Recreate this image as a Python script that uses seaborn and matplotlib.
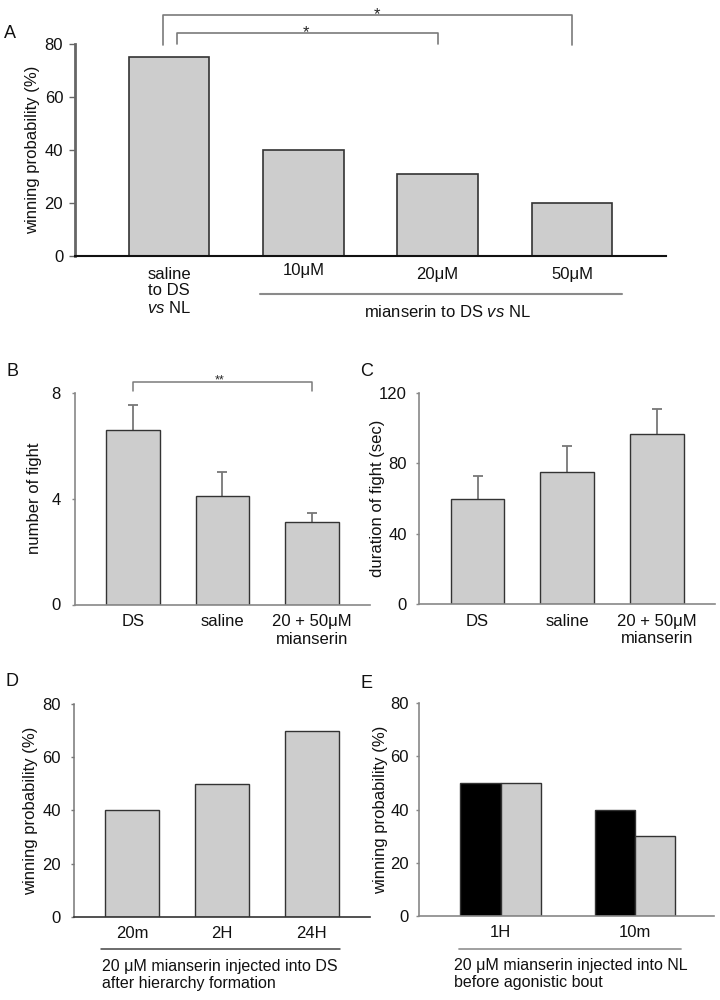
import matplotlib
matplotlib.use("Agg")
import matplotlib.pyplot as plt
import seaborn as sns
import pandas as pd
import numpy as np
from matplotlib.transforms import blended_transform_factory, ScaledTranslation

sns.set_style("white")
plt.rcParams["font.family"] = ["Liberation Sans", "DejaVu Sans"]
plt.rcParams["mathtext.fontset"] = "custom"
plt.rcParams["mathtext.rm"] = "Liberation Sans"
plt.rcParams["mathtext.it"] = "Liberation Sans:italic"

# ---------------- data ----------------
a_groups = ["saline\nto DS\n$\\mathit{vs}$ NL", "10\u03bcM", "20\u03bcM", "50\u03bcM"]
a_values = [75, 40, 31, 20]

b_groups = ["DS", "saline", "20 + 50\u03bcM\nmianserin"]
b_means = [6.6, 4.1, 3.1]
b_sem = [0.95, 0.9, 0.35]

c_groups = ["DS", "saline", "20 + 50\u03bcM\nmianserin"]
c_means = [60, 75, 96.5]
c_sem = [13, 14.5, 14]

d_groups = ["20m", "2H", "24H"]
d_values = [40, 50, 70]

e_groups = ["1H", "10m"]
e_series = ["black", "grey"]
e_values_black = [50, 40]
e_values_grey = [50, 30]

BAR = "#cdcdcd"
EDGE = "#333333"
GREY_LINE = "#7a7a7a"

fig = plt.figure(figsize=(7.2, 10), dpi=100)


def add_ax(l, t, r, b):
    return fig.add_axes([l / 720, 1 - b / 1000, (r - l) / 720, (b - t) / 1000])


def style(ax, left_color, left_lw, bottom_color, bottom_lw, tick_len, ypad, xpad, ylabel, ylabel_px, l, r):
    for s in ["top", "right"]:
        ax.spines[s].set_visible(False)
    ax.spines["left"].set_color(left_color)
    ax.spines["left"].set_linewidth(left_lw)
    ax.spines["bottom"].set_color(bottom_color)
    ax.spines["bottom"].set_linewidth(bottom_lw)
    ax.tick_params(axis="y", left=True, length=tick_len, width=1, color=left_color,
                   labelsize=12, pad=ypad, labelcolor="#111111")
    ax.tick_params(axis="x", bottom=False, length=0, labelsize=12, pad=xpad, labelcolor="#111111")
    ax.set_xlabel("")
    ax.set_ylabel(ylabel, fontsize=12, color="#111111")
    ax.yaxis.set_label_coords((ylabel_px - l) / (r - l), 0.5)


def upper_errorbars(ax, means, sems):
    x = np.arange(len(means))
    ax.errorbar(x, means, yerr=[np.zeros(len(sems)), sems], fmt="none",
                ecolor="#777777", elinewidth=1.3, capsize=0, zorder=1)
    ax.plot(x, np.add(means, sems), ls="none", marker="_", ms=7, mew=1.3,
            color="#777777", zorder=1)


# ---------------- Panel A ----------------
axA = add_ax(75, 44, 666, 256)
dfA = pd.DataFrame({"group": a_groups, "value": a_values})
sns.barplot(data=dfA, x="group", y="value", ax=axA, color=BAR, saturation=1,
            width=0.6, edgecolor=EDGE, linewidth=1.2, errorbar=None)
axA.set_xlim(-0.7, 3.7)
axA.set_ylim(0, 80)
axA.set_yticks([0, 20, 40, 60, 80])
style(axA, "#666666", 2.0, "#111111", 1.5, 4, 4.5, 8,
      "winning probability (%)", 40, 75, 666)
for lbl in axA.get_xticklabels():
    lbl.set_linespacing(1.1)
    if lbl.get_text().startswith("10"):
        lbl.set_transform(lbl.get_transform() + ScaledTranslation(0, 3 / 72, fig.dpi_scale_trans))

trA = blended_transform_factory(axA.transData, axA.transAxes)
axA.plot([-0.045, -0.045, 3.0, 3.0], [0.995, 1.137, 1.137, 0.995], transform=trA,
         color=GREY_LINE, lw=1.2, clip_on=False)
axA.plot([0.06, 0.06, 2.0, 2.0], [1.0, 1.052, 1.052, 1.0], transform=trA,
         color=GREY_LINE, lw=1.2, clip_on=False)
axA.text(1.55, 1.118, "*", transform=trA, ha="center", va="baseline", fontsize=12)
axA.text(1.02, 1.033, "*", transform=trA, ha="center", va="baseline", fontsize=12)
axA.plot([0.68, 3.37], [-0.178, -0.178], transform=trA, color="#8a8a8a", lw=1.5, clip_on=False)
axA.text(2.07, -0.266, "mianserin to DS $\\mathit{vs}$ NL", transform=trA,
         ha="center", va="center", fontsize=12, color="#111111")

# ---------------- Panel B ----------------
axB = add_ax(75, 392.7, 370, 604.5)
dfB = pd.DataFrame({"group": b_groups, "mean": b_means})
sns.barplot(data=dfB, x="group", y="mean", ax=axB, color=BAR, saturation=1,
            width=0.6, edgecolor=EDGE, linewidth=1.0, errorbar=None, zorder=2)
upper_errorbars(axB, b_means, b_sem)
axB.set_xlim(-0.65, 2.65)
axB.set_ylim(0, 8)
axB.set_yticks([0, 4, 8])
style(axB, "#888888", 1.2, "#888888", 1.2, 2.5, 8, 7, "number of fight", 42, 75, 370)
trB = blended_transform_factory(axB.transData, axB.transAxes)
axB.plot([0, 0, 2, 2], [1.007, 1.051, 1.051, 1.007], transform=trB,
         color=GREY_LINE, lw=1.1, clip_on=False)
axB.text(0.97, 1.043, "**", transform=trB, ha="center", va="baseline", fontsize=9)

# ---------------- Panel C ----------------
axC = add_ax(419.3, 392.7, 715, 604.3)
dfC = pd.DataFrame({"group": c_groups, "mean": c_means})
sns.barplot(data=dfC, x="group", y="mean", ax=axC, color=BAR, saturation=1,
            width=0.6, edgecolor=EDGE, linewidth=1.0, errorbar=None, zorder=2)
upper_errorbars(axC, c_means, c_sem)
axC.set_xlim(-0.65, 2.65)
axC.set_ylim(0, 120)
axC.set_yticks([0, 40, 80, 120])
style(axC, "#888888", 1.2, "#888888", 1.2, 2.5, 6.5, 7, "duration of fight (sec)", 385, 419.3, 715)

# ---------------- Panel D ----------------
axD = add_ax(74, 704, 370, 916.7)
dfD = pd.DataFrame({"group": d_groups, "value": d_values})
sns.barplot(data=dfD, x="group", y="value", ax=axD, color=BAR, saturation=1,
            width=0.6, edgecolor=EDGE, linewidth=1.0, errorbar=None)
axD.set_xlim(-0.65, 2.65)
axD.set_ylim(0, 80)
axD.set_yticks([0, 20, 40, 60, 80])
style(axD, "#777777", 1.1, "#333333", 1.2, 2.5, 7, 7, "winning probability (%)", 38, 74, 370)
trD = blended_transform_factory(axD.transData, axD.transAxes)
axD.plot([-0.354, 2.32], [-0.152, -0.152], transform=trD, color="#444444", lw=1.1, clip_on=False)
axD.text(-0.343, -0.2, "20 \u03bcM mianserin injected into DS\nafter hierarchy formation",
         transform=trD, ha="left", va="top", fontsize=11.5, linespacing=1.12, color="#111111")

# ---------------- Panel E ----------------
axE = add_ax(418.7, 703.3, 714, 915.7)
dfE = pd.DataFrame({
    "group": e_groups * 2,
    "series": [e_series[0]] * len(e_groups) + [e_series[1]] * len(e_groups),
    "value": e_values_black + e_values_grey,
})
sns.barplot(data=dfE, x="group", y="value", hue="series", ax=axE,
            palette=["#000000", BAR], saturation=1, width=0.6, gap=0,
            edgecolor=EDGE, linewidth=1.0, errorbar=None, legend=False)
axE.set_xlim(-0.61, 1.59)
axE.set_ylim(0, 80)
axE.set_yticks([0, 20, 40, 60, 80])
style(axE, "#888888", 1.2, "#888888", 1.2, 2.5, 4.5, 7, "winning probability (%)", 388, 418.7, 714)
trE = blended_transform_factory(axE.transData, axE.transAxes)
axE.plot([-0.31, 1.343], [-0.157, -0.157], transform=trE, color="#999999", lw=1.3, clip_on=False)
axE.text(-0.346, -0.2, "20 \u03bcM mianserin injected into NL\nbefore agonistic bout",
         transform=trE, ha="left", va="top", fontsize=11.5, linespacing=1.12, color="#111111")

# ---------------- panel letters ----------------
for letter, x, y in [("A", 10, 33), ("B", 12, 372), ("C", 367, 372), ("D", 12, 682), ("E", 366, 683)]:
    fig.text(x / 720, 1 - y / 1000, letter, fontsize=13, ha="center", va="center", color="#111111")

fig.savefig("out.png", dpi=100, facecolor="white")
